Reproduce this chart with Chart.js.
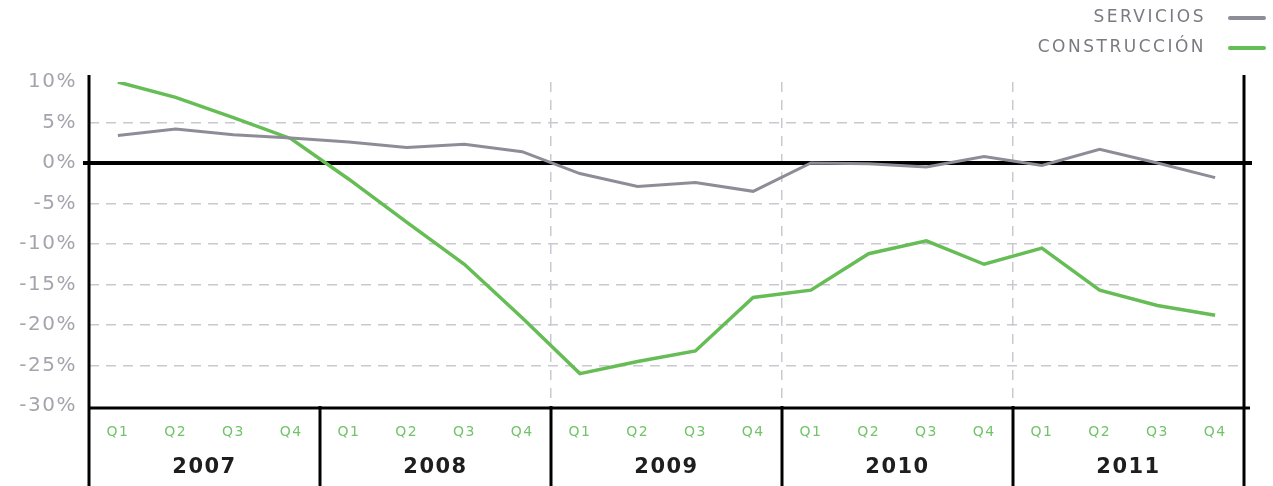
<!DOCTYPE html>
<html lang="es">
<head>
    <meta charset="UTF-8">
    <title>Servicios y Construcción</title>
    <script src="https://cdn.jsdelivr.net/npm/chart.js"></script>
    <style>
        html, body { margin: 0; padding: 0; background: #fff; }
        #chart-container { width: 1273px; height: 486px; position: relative; }
    </style>
</head>
<body>
    <div id="chart-container">
        <canvas id="sectorChart"></canvas>
    </div>

    <script>
        // Datos
        const quarters = ['Q1', 'Q2', 'Q3', 'Q4', 'Q1', 'Q2', 'Q3', 'Q4', 'Q1', 'Q2',
                          'Q3', 'Q4', 'Q1', 'Q2', 'Q3', 'Q4', 'Q1', 'Q2', 'Q3', 'Q4'];
        const years = ['2007', '2008', '2009', '2010', '2011'];
        const servicios = [3.4, 4.2, 3.5, 3.1, 2.6, 1.9, 2.3, 1.4, -1.3, -2.9,
                           -2.4, -3.5, 0.0, -0.1, -0.5, 0.8, -0.3, 1.7, 0.0, -1.8];
        const construccion = [10.0, 8.1, 5.6, 3.0, -2.0, -7.3, -12.5, -19.1, -26.0, -24.5,
                              -23.2, -16.6, -15.7, -11.2, -9.6, -12.5, -10.5, -15.7, -17.6, -18.8];
        const yMin = -30, yMax = 10, yStep = 5;

        const GREEN = '#66bd55';
        const GRAY = '#8d8d97';
        const GRID = '#c9c9d1';
        const FONT = 'DejaVu Sans';

        // Ejes, linea del cero, separadores de años y leyenda
        const framePlugin = {
            id: 'frame',
            beforeDraw(chart) {
                // el texto del original es algo ancho
                chart.ctx.letterSpacing = '1.5px';
            },
            beforeDatasetsDraw(chart) {
                const { ctx, chartArea, scales } = chart;
                const y0 = scales.y.getPixelForValue(0);
                ctx.save();
                ctx.strokeStyle = '#000';
                ctx.lineWidth = 4;
                ctx.beginPath();
                ctx.moveTo(chartArea.left - 6, y0);
                ctx.lineTo(chartArea.right + 8, y0);
                ctx.stroke();
                ctx.restore();
            },
            afterDraw(chart) {
                const { ctx, chartArea, scales } = chart;
                const xs = scales.x;
                const n = quarters.length;
                const H = chart.height;
                ctx.save();
                ctx.strokeStyle = '#000';

                // linea inferior
                ctx.lineWidth = 3;
                ctx.beginPath();
                ctx.moveTo(chartArea.left, chartArea.bottom + 2);
                ctx.lineTo(chartArea.right + 6, chartArea.bottom + 2);
                ctx.stroke();

                // separadores de años
                for (let b = 0; b <= n; b += 4) {
                    const x = xs.left + b * xs.width / n;
                    const top = (b === 0 || b === n) ? chartArea.top - 7 : chartArea.bottom;
                    ctx.beginPath();
                    ctx.moveTo(x, top);
                    ctx.lineTo(x, H);
                    ctx.stroke();
                }

                // leyenda
                ctx.font = '17px "' + FONT + '"';
                ctx.letterSpacing = '2.5px';
                ctx.textAlign = 'right';
                ctx.textBaseline = 'middle';
                ctx.fillStyle = '#7a7a82';
                chart.data.datasets.forEach((ds, i) => {
                    const y = 18 + i * 30;
                    ctx.fillText(ds.label, 1206, y);
                    ctx.strokeStyle = ds.borderColor;
                    ctx.lineWidth = 4;
                    ctx.lineCap = 'round';
                    ctx.beginPath();
                    ctx.moveTo(1230, y);
                    ctx.lineTo(1264, y);
                    ctx.stroke();
                });
                ctx.restore();
            }
        };

        const config = {
            type: 'line',
            data: {
                labels: quarters,
                datasets: [
                    {
                        label: 'SERVICIOS',
                        data: servicios,
                        borderColor: GRAY,
                        borderWidth: 3,
                        pointRadius: 0,
                        tension: 0
                    },
                    {
                        label: 'CONSTRUCCIÓN',
                        data: construccion,
                        borderColor: GREEN,
                        borderWidth: 3.5,
                        pointRadius: 0,
                        tension: 0
                    }
                ]
            },
            options: {
                responsive: false,
                maintainAspectRatio: false,
                animation: false,
                layout: { padding: { top: 82, right: 29, left: 0, bottom: 0 } },
                plugins: {
                    legend: { display: false },
                    tooltip: { enabled: false }
                },
                scales: {
                    x: {
                        type: 'category',
                        offset: true,
                        grid: {
                            offset: true,
                            drawTicks: false,
                            color: (c) => [8, 12, 16].includes(c.index) ? GRID : 'rgba(0,0,0,0)',
                            lineWidth: 1.5
                        },
                        border: { display: false, dash: [10, 8] },
                        ticks: {
                            color: '#72c46a',
                            font: { family: FONT, size: 14 },
                            padding: 18,
                            maxRotation: 0,
                            autoSkip: false
                        },
                        afterFit(scale) { scale.height = 45; }
                    },
                    years: {
                        type: 'category',
                        labels: years,
                        position: 'bottom',
                        offset: true,
                        grid: { display: false, drawTicks: false },
                        border: { display: false },
                        ticks: {
                            color: '#1e1e1e',
                            font: { family: FONT, size: 21, weight: 'bold' },
                            padding: 4,
                            maxRotation: 0
                        },
                        afterFit(scale) { scale.height = 35; }
                    },
                    y: {
                        min: yMin,
                        max: yMax,
                        grid: {
                            drawTicks: false,
                            color: (c) => (c.tick && (c.tick.value === 0 || c.tick.value === yMax || c.tick.value === yMin)) ? 'rgba(0,0,0,0)' : GRID,
                            lineWidth: 1.5
                        },
                        border: { display: false, dash: [10, 7] },
                        ticks: {
                            stepSize: yStep,
                            color: '#a4a4ad',
                            font: { family: FONT, size: 20 },
                            padding: 12,
                            callback: (v) => v + '%'
                        },
                        afterFit(scale) { scale.width = 89; }
                    }
                }
            },
            plugins: [framePlugin]
        };

        const canvas = document.getElementById('sectorChart');
        canvas.width = 1273;
        canvas.height = 486;
        const sectorChart = new Chart(canvas.getContext('2d'), config);
    </script>
</body>
</html>
